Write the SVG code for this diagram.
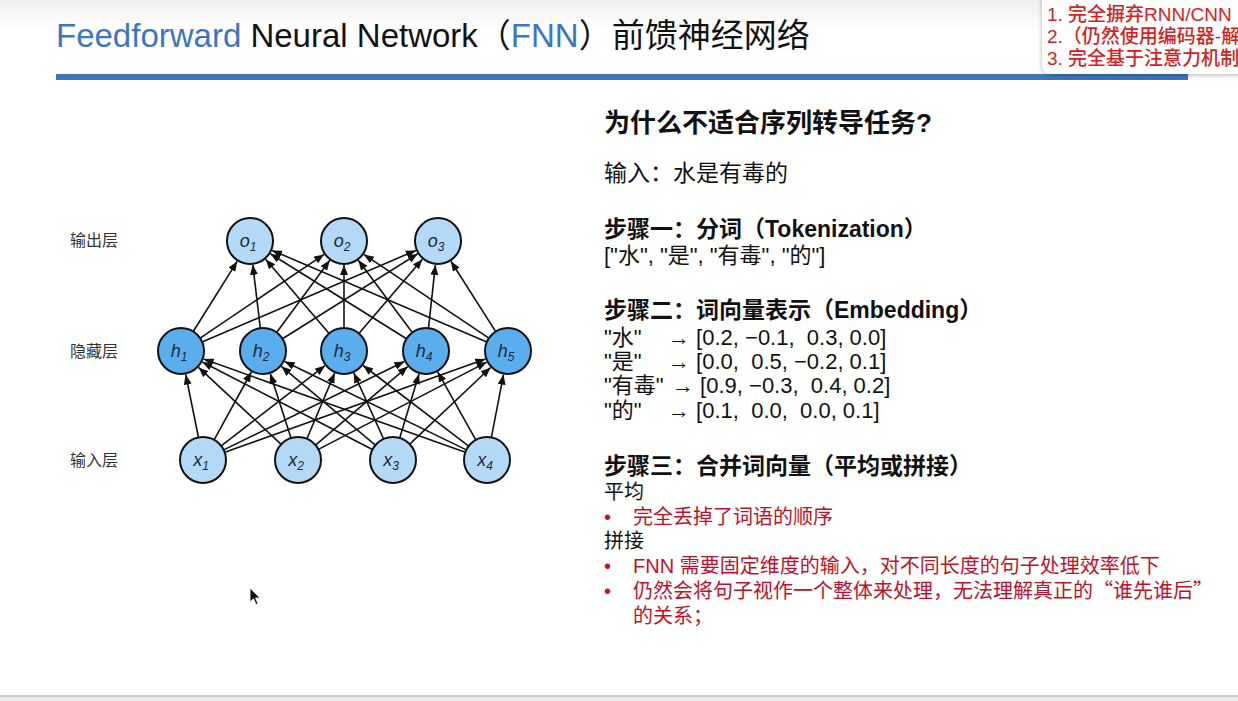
<svg xmlns="http://www.w3.org/2000/svg" width="1238" height="701" viewBox="0 0 1238 701">
<defs>
<linearGradient id="topg" x1="0" y1="0" x2="0" y2="1">
<stop offset="0" stop-color="#efefef"/>
<stop offset="1" stop-color="#ffffff"/>
</linearGradient>
<marker id="ah" markerUnits="userSpaceOnUse" markerWidth="11" markerHeight="9" refX="10" refY="4" orient="auto">
<path d="M0,0 L10,4 L0,8 z" fill="#111"/>
</marker>
<filter id="sh" x="-10%" y="-20%" width="130%" height="150%">
<feDropShadow dx="0" dy="1" stdDeviation="2.5" flood-color="#000" flood-opacity="0.3"/>
</filter>
<style>
.t{font-family:"Liberation Sans","Noto Sans CJK SC",sans-serif;}
.cj{font-family:"Noto Sans CJK SC",sans-serif;}
.lbl{font-family:"Liberation Sans","Noto Sans CJK SC",sans-serif;font-size:16px;fill:#333;}
.nl{font-family:"Liberation Sans",sans-serif;font-style:italic;font-size:18px;fill:#1b2a3a;text-anchor:middle;}
.sub{font-size:12px;}
.lt{fill:#b3d9f7;stroke:#111;stroke-width:2;}
.dk{fill:#5aaeee;stroke:#111;stroke-width:2;}
.e{stroke:#111;stroke-width:1.6;fill:none;marker-end:url(#ah);}
.h{font-weight:bold;font-size:23px;fill:#111;}
.b{font-size:23px;fill:#111;}
.v{font-size:22px;fill:#111;white-space:pre;}
.r{font-size:20px;fill:#c0102a;}
.k{font-size:20px;fill:#111;}
.pop{font-size:19px;fill:#d42222;font-weight:500;}
</style>
</defs>
<rect x="0" y="0" width="1238" height="701" fill="#ffffff"/>
<rect x="0" y="0" width="1238" height="30" fill="url(#topg)"/>
<rect x="0" y="696" width="1238" height="5" fill="#ececec"/>
<line x1="0" y1="696" x2="1238" y2="696" stroke="#bcbcbc" stroke-width="1.5"/>

<g id="title">
<text class="t" x="56" y="47" font-size="33" fill="#111"><tspan fill="#3a76c4">Feedforward</tspan> Neural Network（<tspan fill="#3a76c4">FNN</tspan>）前馈神经网络</text>
<rect x="56" y="74" width="1132" height="6" fill="#3a76c4"/>
</g>

<g id="popup">
<rect x="1042" y="-8" width="210" height="82" rx="8" fill="#ffffff" filter="url(#sh)"/>
<text class="t pop" x="1047" y="21">1. 完全摒弃RNN/CNN</text>
<text class="t pop" x="1047" y="43">2.（仍然使用编码器-解</text>
<text class="t pop" x="1047" y="65">3. 完全基于注意力机制</text>
</g>

<g id="layer-labels">
<text class="lbl" x="70" y="246">输出层</text>
<text class="lbl" x="70" y="357">隐藏层</text>
<text class="lbl" x="70" y="466">输入层</text>
</g>

<g id="connectors">
<line class="e" x1="193.2" y1="331.5" x2="237.2" y2="261.3"/>
<line class="e" x1="200.1" y1="338.1" x2="324.1" y2="254.4"/>
<line class="e" x1="202.1" y1="342.0" x2="415.9" y2="250.4"/>
<line class="e" x1="260.3" y1="328.2" x2="252.8" y2="264.8"/>
<line class="e" x1="276.6" y1="332.5" x2="329.8" y2="260.3"/>
<line class="e" x1="282.5" y1="338.8" x2="417.7" y2="253.8"/>
<line class="e" x1="329.1" y1="333.5" x2="265.6" y2="259.2"/>
<line class="e" x1="344" y1="328" x2="344" y2="265"/>
<line class="e" x1="358.9" y1="333.5" x2="422.4" y2="259.2"/>
<line class="e" x1="406.5" y1="338.8" x2="270.4" y2="253.7"/>
<line class="e" x1="412.3" y1="332.6" x2="358.3" y2="260.2"/>
<line class="e" x1="428.5" y1="328.1" x2="435.4" y2="264.9"/>
<line class="e" x1="486.8" y1="342.0" x2="272.1" y2="250.4"/>
<line class="e" x1="488.9" y1="338.2" x2="363.9" y2="254.4"/>
<line class="e" x1="495.7" y1="331.6" x2="450.9" y2="261.2"/>

<line class="e" x1="198.5" y1="437.5" x2="185.7" y2="374.5"/>
<line class="e" x1="214.1" y1="439.8" x2="251.4" y2="372.0"/>
<line class="e" x1="221.2" y1="445.9" x2="325.0" y2="365.7"/>
<line class="e" x1="223.7" y1="449.9" x2="404.4" y2="361.5"/>
<line class="e" x1="224.7" y1="452.3" x2="485.4" y2="359.1"/>
<line class="e" x1="281.2" y1="444.3" x2="198.6" y2="367.4"/>
<line class="e" x1="291.0" y1="438.1" x2="270.3" y2="373.8"/>
<line class="e" x1="306.9" y1="438.8" x2="334.7" y2="373.1"/>
<line class="e" x1="315.5" y1="445.1" x2="407.7" y2="366.6"/>
<line class="e" x1="318.4" y1="449.4" x2="486.7" y2="362.1"/>
<line class="e" x1="372.5" y1="449.5" x2="202.3" y2="362.0"/>
<line class="e" x1="375.4" y1="445.2" x2="281.4" y2="366.4"/>
<line class="e" x1="383.6" y1="439.0" x2="353.8" y2="372.9"/>
<line class="e" x1="399.7" y1="438.0" x2="419.0" y2="374.0"/>
<line class="e" x1="409.7" y1="444.2" x2="490.6" y2="367.5"/>
<line class="e" x1="465.3" y1="452.3" x2="203.6" y2="359.1"/>
<line class="e" x1="466.3" y1="449.9" x2="284.6" y2="361.5"/>
<line class="e" x1="468.7" y1="446.1" x2="363.1" y2="365.5"/>
<line class="e" x1="475.8" y1="439.9" x2="437.7" y2="371.9"/>
<line class="e" x1="491.4" y1="437.4" x2="503.5" y2="374.6"/>
</g>

<g id="o1"><circle class="lt" cx="250" cy="241" r="23"/><text class="nl" x="248" y="247">o<tspan class="sub" dy="4">1</tspan></text></g>
<g id="o2"><circle class="lt" cx="344" cy="241" r="23"/><text class="nl" x="342" y="247">o<tspan class="sub" dy="4">2</tspan></text></g>
<g id="o3"><circle class="lt" cx="438" cy="241" r="23"/><text class="nl" x="436" y="247">o<tspan class="sub" dy="4">3</tspan></text></g>

<g id="h1"><circle class="dk" cx="181" cy="351" r="23"/><text class="nl" x="179" y="357">h<tspan class="sub" dy="4">1</tspan></text></g>
<g id="h2"><circle class="dk" cx="263" cy="351" r="23"/><text class="nl" x="261" y="357">h<tspan class="sub" dy="4">2</tspan></text></g>
<g id="h3"><circle class="dk" cx="344" cy="351" r="23"/><text class="nl" x="342" y="357">h<tspan class="sub" dy="4">3</tspan></text></g>
<g id="h4"><circle class="dk" cx="426" cy="351" r="23"/><text class="nl" x="424" y="357">h<tspan class="sub" dy="4">4</tspan></text></g>
<g id="h5"><circle class="dk" cx="508" cy="351" r="23"/><text class="nl" x="506" y="357">h<tspan class="sub" dy="4">5</tspan></text></g>

<g id="x1"><circle class="lt" cx="203" cy="460" r="23"/><text class="nl" x="201" y="466">x<tspan class="sub" dy="4">1</tspan></text></g>
<g id="x2"><circle class="lt" cx="298" cy="460" r="23"/><text class="nl" x="296" y="466">x<tspan class="sub" dy="4">2</tspan></text></g>
<g id="x3"><circle class="lt" cx="393" cy="460" r="23"/><text class="nl" x="391" y="466">x<tspan class="sub" dy="4">3</tspan></text></g>
<g id="x4"><circle class="lt" cx="487" cy="460" r="23"/><text class="nl" x="485" y="466">x<tspan class="sub" dy="4">4</tspan></text></g>

<g id="explanation" class="t">
<text x="604" y="132" font-size="26" font-weight="bold" fill="#111">为什么不适合序列转导任务?</text>
<text class="b" x="604" y="181">输入：水是有毒的</text>
<text class="h" x="604" y="237">步骤一：分词（Tokenization）</text>
<text class="t" x="604" y="263" font-size="22" fill="#111">["水", "是", "有毒", "的"]</text>
<text class="h" x="604" y="318">步骤二：词向量表示（Embedding）</text>
<text class="v" x="604" y="345">"水"</text><text class="v" x="668" y="345">→ [0.2, −0.1,  0.3, 0.0]</text>
<text class="v" x="604" y="369">"是"</text><text class="v" x="668" y="369">→ [0.0,  0.5, −0.2, 0.1]</text>
<text class="v" x="604" y="393">"有毒"</text><text class="v" x="672" y="393">→ [0.9, −0.3,  0.4, 0.2]</text>
<text class="v" x="604" y="418">"的"</text><text class="v" x="668" y="418">→ [0.1,  0.0,  0.0, 0.1]</text>
<text class="h" x="604" y="474">步骤三：合并词向量（平均或拼接）</text>
<text class="k" x="604" y="499">平均</text>
<text class="r" x="604" y="524">•</text>
<text class="r" x="633" y="524">完全丢掉了词语的顺序</text>
<text class="k" x="604" y="548">拼接</text>
<text class="r" x="604" y="573">•</text>
<text class="r" x="633" y="573">FNN 需要固定维度的输入，对不同长度的句子处理效率低下</text>
<text class="r" x="604" y="598">•</text>
<text class="r" x="633" y="598">仍然会将句子视作一个整体来处理，无法理解真正的<tspan class="cj">“</tspan>谁先谁后<tspan class="cj">”</tspan></text>
<text class="r" x="633" y="623">的关系；</text>
</g>

<g id="cursor">
<path d="M250,588 L250,602 L253.5,598.8 L256,604.5 L258,603.6 L255.6,598 L260,598 Z" fill="#111" stroke="#fff" stroke-width="0.8"/>
</g>
</svg>
